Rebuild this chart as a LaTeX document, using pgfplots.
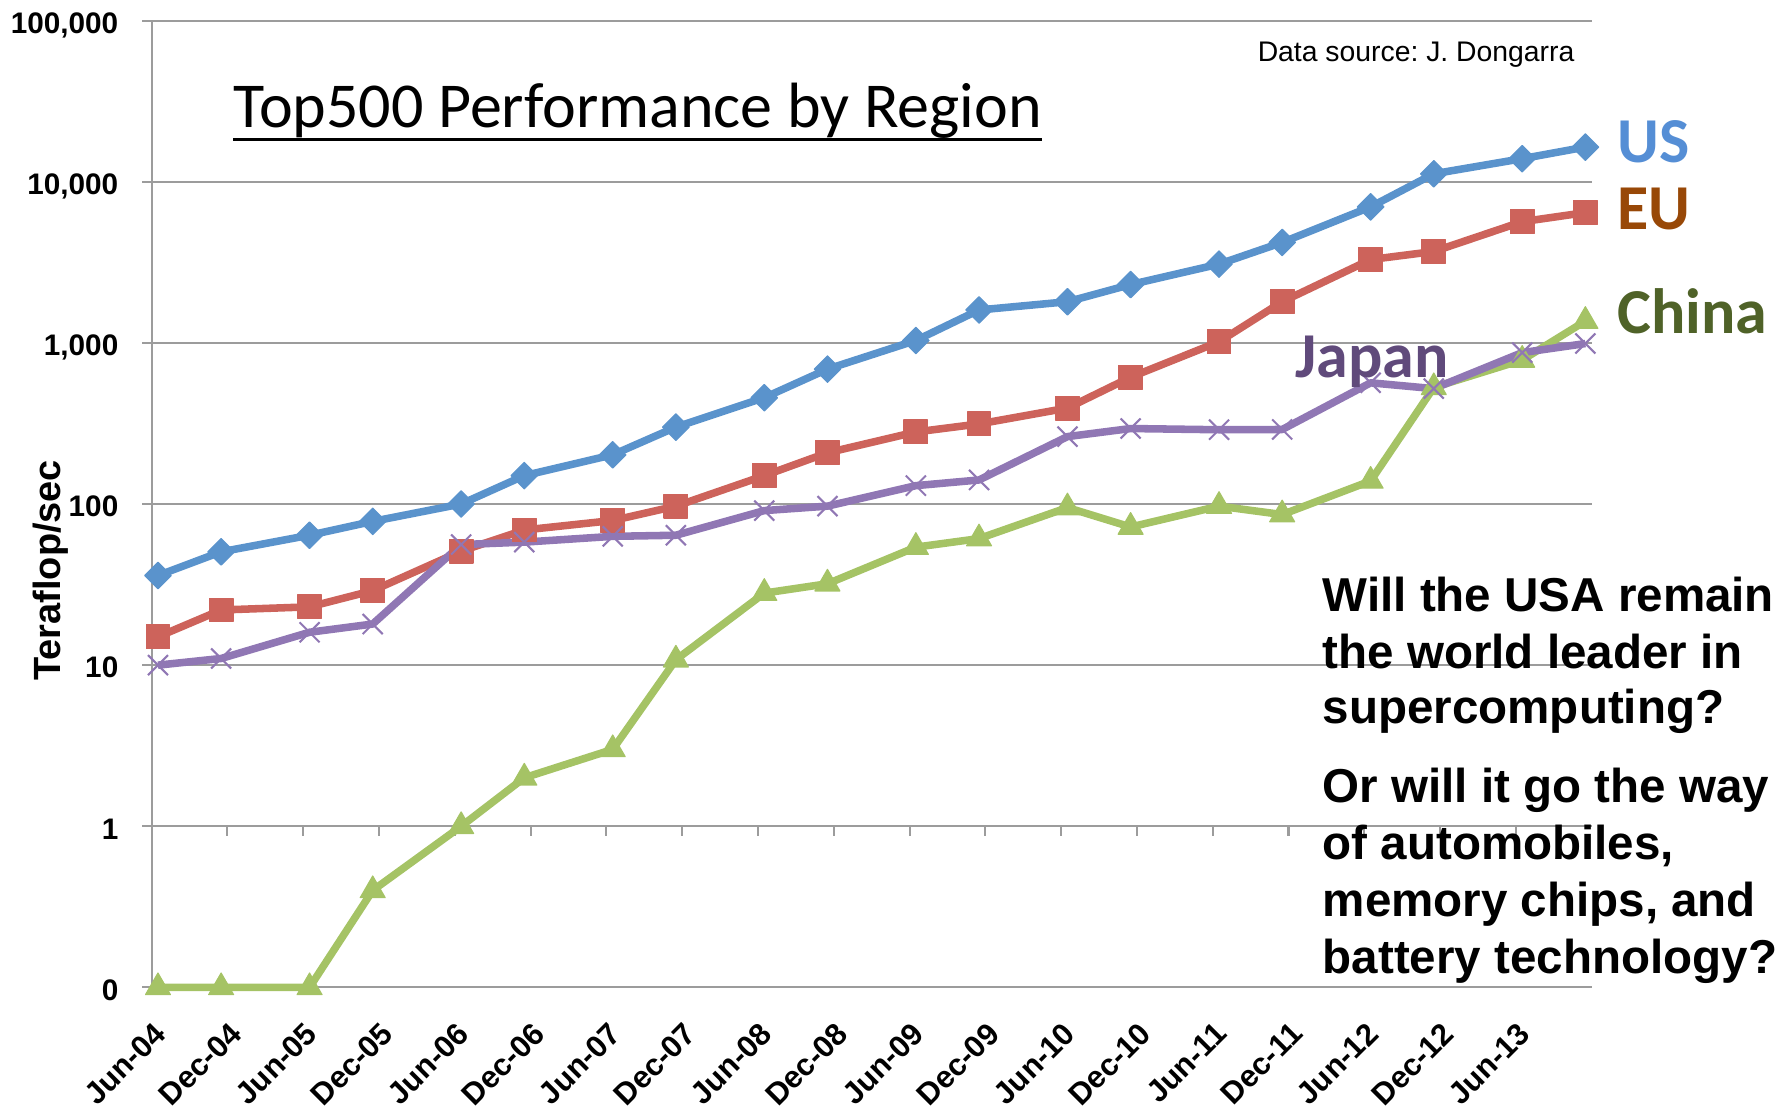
\documentclass[border=0pt]{standalone}
\usepackage{pgfplots}
\pgfplotsset{compat=1.18}
\usepackage{pgfplotstable}
\usepackage{fontspec}
\setmainfont{Liberation Sans}
\newfontfamily\calibri{Carlito}
\definecolor{usblue}{HTML}{5A93CC}
\definecolor{eured}{HTML}{CD635B}
\definecolor{cngreen}{HTML}{A5C365}
\definecolor{jppurple}{HTML}{9077B4}
\definecolor{ustext}{HTML}{558ED5}
\definecolor{eutext}{HTML}{984807}
\definecolor{cntext}{HTML}{4F6228}
\definecolor{jptext}{HTML}{604A7B}
\definecolor{gridgray}{HTML}{9C9C9C}

\pgfplotstableread{
x US EU China Japan
0.5 36 15 0.1 10
5.5 50.5 22 0.1 11
12.5 64 23 0.1 16
17.5 78 29 0.4 18
24.5 100 51 1 56
29.5 150 69 2 58
36.5 202 79 3 63
41.5 300 97 10.8 64
48.5 457 150 28 91
53.5 687 208 32 97
60.5 1035 280 54 130
65.5 1600 314 61 141
72.5 1800 394 95 262
77.5 2300 612 72 294
84.5 3080 1016 97 289
89.5 4200 1800 86 290
96.5 6980 3290 139 565
101.5 11200 3690 529 520
108.5 13900 5650 783 870
113.5 16400 6430 1365 990
}\datatable

\begin{document}
\frenchspacing
\begin{tikzpicture}
\begin{axis}[
  at={(66.35pt,56pt)}, anchor=south west,
  scale only axis, width=630pt, height=423pt,
  xmin=0, xmax=114,
  ymode=log, ymin=0.1, ymax=100000,
  clip=false,
  axis lines*=left,
  axis line style={gridgray, line width=0.9pt},
  ymajorgrids, grid style={gridgray, line width=0.9pt},
  yminorticks=false,
  tick align=outside,
  major tick length=4.2pt,
  ytick={0.1,1,10,100,1000,10000,100000},
  yticklabels={0,1,10,100,{1,000},{10,000},{100,000}},
  ytick style={gridgray, line width=0.9pt},
  yticklabel style={font=\bfseries\fontsize{13}{15}\selectfont, anchor=base east, inner sep=0pt, xshift=-10.2pt, yshift=-5.6pt},
  xtick={0,6,...,108},
  xticklabels={Jun-04,Dec-04,Jun-05,Dec-05,Jun-06,Dec-06,Jun-07,Dec-07,Jun-08,Dec-08,Jun-09,Dec-09,Jun-10,Dec-10,Jun-11,Dec-11,Jun-12,Dec-12,Jun-13},
  xtick style={draw=none},
  xticklabel style={font=\bfseries\fontsize{13.5}{15}\selectfont, inner sep=0pt, xshift=3.8pt, yshift=-13.6pt, rotate=45, anchor=east},
  /pgf/number format/assume math mode=true,
  every axis plot/.append style={line width=3.3pt, line join=round},
]
\pgfplotsinvokeforeach{0,6,...,108}{
  \draw[gridgray, line width=0.9pt] (axis cs:#1,1) -- ([yshift=-4.2pt]axis cs:#1,1);
}
\addplot[color=usblue, mark=square*, mark size=4.1pt, mark options={rotate=45, fill=usblue, line width=0.5pt}] table[x=x, y=US] {\datatable};
\addplot[color=eured, mark=square*, mark size=5.2pt, mark options={fill=eured, line width=0.5pt}] table[x=x, y=EU] {\datatable};
\addplot[color=cngreen, mark=triangle*, mark size=6.3pt, mark options={fill=cngreen, line width=0.5pt}] table[x=x, y=China] {\datatable};
\addplot[color=jppurple, mark=x, mark size=6.2pt, mark options={line width=0.9pt}] table[x=x, y=Japan] {\datatable};
\end{axis}

\node[rotate=90, anchor=center, inner sep=0pt, font=\bfseries\fontsize{16.6}{19}\selectfont] at (22pt,238.5pt) {Teraflop/sec};

\node[anchor=base west, inner sep=0pt, font=\calibri\fontsize{28}{30}\selectfont] (title) at (102pt,432pt) {Top500 Performance by Region};
\draw[line width=1.5pt] ([yshift=-5pt]title.base west) -- ([yshift=-5pt]title.base east);

\node[anchor=base east, inner sep=0pt, font=\fontsize{12.4}{14}\selectfont] at (689pt,461pt) {Data source: J. Dongarra};

\node[anchor=base west, inner sep=0pt, text=ustext, font=\calibri\bfseries\fontsize{28}{30}\selectfont] at (707.5pt,417pt) {US};
\node[anchor=base west, inner sep=0pt, text=eutext, font=\calibri\bfseries\fontsize{28}{30}\selectfont] at (707.5pt,387.5pt) {EU};
\node[anchor=base west, inner sep=0pt, text=cntext, font=\calibri\bfseries\fontsize{28}{30}\selectfont] at (707.5pt,342pt) {China};
\node[anchor=base west, inner sep=0pt, text=jptext, font=\calibri\bfseries\fontsize{28}{30}\selectfont] at (566.5pt,323pt) {Japan};

\begin{scope}[every node/.style={anchor=base west, inner sep=0pt, font=\bfseries\fontsize{20.8}{24}\selectfont}]
\node at (578.5pt,220.5pt) {Will the USA remain};
\node at (578.5pt,195.5pt) {the world leader in};
\node at (578.5pt,171.5pt) {supercomputing?};
\node at (578.5pt,137pt) {Or will it go the way};
\node at (578.5pt,112pt) {of automobiles,};
\node at (578.5pt,87pt) {memory chips, and};
\node at (578.5pt,62pt) {battery technology?};
\end{scope}

\pgfresetboundingbox
\useasboundingbox (0,0) rectangle (784pt,488pt);
\end{tikzpicture}
\end{document}
